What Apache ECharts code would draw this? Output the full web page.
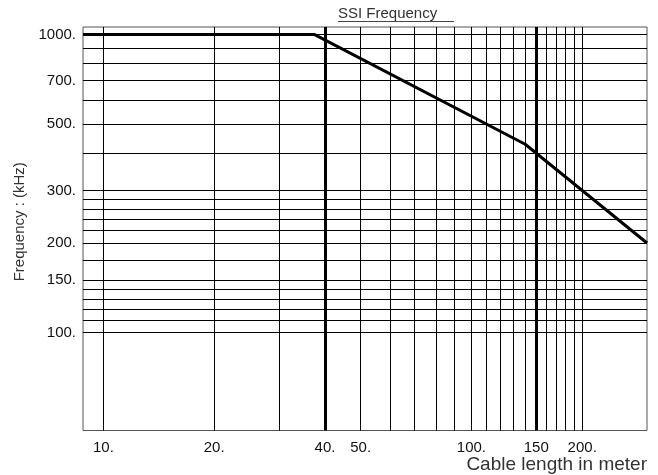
<!DOCTYPE html>
<html><head><meta charset="utf-8">
<script src="https://cdn.jsdelivr.net/npm/echarts@6/dist/echarts.min.js"></script>
<style>html,body{margin:0;padding:0;background:#fff}#c{width:658px;height:475px}</style>
</head><body><div id="c"></div>
<script>
// Data
const lengthM = [8.8, 37.5, 140, 300];
const freqKHz = [1000, 1000, 428.6, 200];

const xTickValues = [10, 20, 40, 50, 100, 150, 200];
const xTickLabels = ['10.', '20.', '40.', '50.', '100.', '150', '200.'];
const yTickValues = [100, 150, 200, 300, 500, 700, 1000];
const yTickLabels = ['100.', '150.', '200.', '300.', '500.', '700.', '1000.'];

const xGridValues = [10, 20, 30, 40, 50, 60, 70, 80, 90, 100, 110, 120, 130, 140, 150, 160, 170, 180, 190, 200];
const yGridValues = [100, 110, 120, 130, 140, 150, 175, 200, 220, 240, 260, 280, 300, 400, 500, 600, 700, 800, 900, 1000];
const xMarkedValues = [40, 150];

const FONT = '"Liberation Sans", Arial, Helvetica, sans-serif';

const chart = echarts.init(document.getElementById('c'), null, {renderer: 'canvas'});

const markBase = {
  silent: true,
  symbol: ['none', 'none'],
  animation: false,
  label: {show: false},
  emphasis: {disabled: true}
};

chart.setOption({
  animation: false,
  backgroundColor: '#fff',
  title: {
    text: 'SSI Frequency',
    left: 333,
    top: 1,
    textStyle: {fontSize: 15, fontWeight: 'normal', color: '#333', fontFamily: FONT}
  },
  graphic: [{
    type: 'line',
    shape: {x1: 338, y1: 21.5, x2: 454, y2: 21.5},
    style: {stroke: '#444', lineWidth: 1}
  }],
  grid: {
    left: 83, right: 11, top: 27, bottom: 44.5,
    show: true, borderColor: '#555', borderWidth: 1,
    containLabel: false, outerBoundsMode: 'none'
  },
  xAxis: {
    type: 'log',
    min: 8.8, max: 300,
    name: 'Cable length in meter',
    nameLocation: 'end',
    nameGap: 0,
    nameMoveOverlap: false,
    nameTextStyle: {fontSize: 19, color: '#333', fontFamily: FONT, align: 'right', verticalAlign: 'top', padding: [25, 0, 0, 0]},
    axisLine: {show: false},
    axisTick: {show: false},
    splitLine: {show: false},
    minorSplitLine: {show: false},
    axisLabel: {
      customValues: xTickValues,
      formatter: function (v) { const i = xTickValues.indexOf(v); return i >= 0 ? xTickLabels[i] : ''; },
      fontSize: 15, color: '#111', fontFamily: FONT, margin: 10
    }
  },
  yAxis: {
    type: 'log',
    min: 47, max: 1060,
    name: 'Frequency : (kHz)',
    nameLocation: 'middle',
    nameGap: 56,
    nameMoveOverlap: false,
    nameTextStyle: {fontSize: 15, color: '#333', fontFamily: FONT, padding: [0, 0, 0, 14]},
    axisLine: {show: false},
    axisTick: {show: false},
    splitLine: {show: false},
    minorSplitLine: {show: false},
    axisLabel: {
      customValues: yTickValues,
      formatter: function (v) { const i = yTickValues.indexOf(v); return i >= 0 ? yTickLabels[i] : ''; },
      fontSize: 15, color: '#111', fontFamily: FONT, margin: 7
    }
  },
  series: [
    {
      type: 'line', name: 'grid', data: [], z: 1, silent: true,
      markLine: Object.assign({}, markBase, {
        lineStyle: {color: '#000', width: 1, type: 'solid'},
        data: xGridValues.filter(v => xMarkedValues.indexOf(v) < 0).map(v => ({xAxis: v}))
          .concat(yGridValues.map(v => ({yAxis: v})))
      })
    },
    {
      type: 'line', name: 'marked', data: [], z: 2, silent: true,
      markLine: Object.assign({}, markBase, {
        lineStyle: {color: '#000', width: 3, type: 'solid'},
        data: xMarkedValues.map(v => ({xAxis: v}))
      })
    },
    {
      type: 'line', name: 'SSI Frequency', z: 3,
      data: lengthM.map((x, i) => [x, freqKHz[i]]),
      showSymbol: false, symbol: 'none',
      lineStyle: {color: '#000', width: 3},
      emphasis: {disabled: true}
    }
  ]
});
</script>
</body></html>
